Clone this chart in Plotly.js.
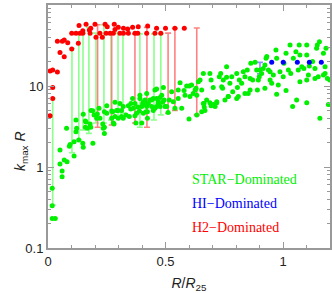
<!DOCTYPE html>
<html><head><meta charset="utf-8">
<script src="https://cdn.plot.ly/plotly-3.0.1.min.js"></script>
<style>html,body{margin:0;padding:0;background:#fff}#c{width:332px;height:293px}</style>
</head><body><div id="c"></div>
<script>
// STAR-dominated points
const starX = [0.018,0.018,0.018,0.031,0.051,0.051,0.06,0.06,0.069,0.081,0.091,0.111,0.111,0.131,0.15,0.191,0.079,0.119,0.119,0.15,0.159,0.159,0.182,0.19,0.207,0.217,0.21,0.24,0.25,0.25,0.233,0.24,0.271,0.278,0.271,0.094,0.148,0.122,0.167,0.235,0.162,0.196,0.179,0.183,0.221,0.24,
0.285,0.306,0.292,0.285,0.32,0.342,0.353,0.363,0.382,0.391,0.406,0.427,0.406,0.42,0.441,0.455,0.462,0.469,0.477,0.491,0.494,0.505,0.462,0.423,0.299,0.313,0.332,0.37,0.377,0.399,
0.275,0.281,0.299,0.313,0.32,0.352,0.346,0.36,0.37,0.374,0.389,0.391,0.399,0.403,0.413,0.417,0.417,0.42,0.423,0.434,0.441,0.448,0.448,0.455,0.462,0.469,0.477,0.484,0.488,0.498,0.516,0.526,0.533,0.54,0.554,0.554,0.562,0.511,0.6,0.633,
0.569,0.579,0.583,0.59,0.601,0.611,0.604,0.618,0.626,0.63,0.633,0.64,0.647,0.654,0.661,0.664,0.668,0.675,0.689,0.694,0.703,0.703,0.711,0.718,0.729,0.735,0.739,0.743,0.746,0.76,0.76,0.767,0.774,0.782,0.786,0.803,0.806,0.81,0.814,0.824,0.831,0.838,0.848,0.852,0.86,0.863,0.871,0.881,0.888,0.891,0.895,0.899,0.902,0.909,0.916,0.923,0.928,0.931,0.938,0.945,0.945,0.959,0.97,0.973,0.98,0.987,1.001,1.004,1.013,1.013,1.023,1.03,1.033,1.041,1.044,1.055,1.065,1.058,1.069,1.072,1.08,1.089,1.101,1.101,1.101,1.108,1.112,1.126,1.136,1.143,1.146,1.155,1.157,1.172,1.179,1.183,1.189,1.193,1.136,1.172,
0.661,0.665,0.654,0.689,0.694,0.718,0.753,0.767,0.803,0.838,1.101,0.973,0.923,0.86,0.952,1.072,1.15,1.179,1.199];
const starY = [0.546,0.333,0.232,0.232,1.62,1.09,0.89,0.76,1.22,1.16,1.8,2.05,1.37,2.15,1.75,1.96,3.0,2.73,3.8,4.47,3.7,3.1,3.1,4.95,4.0,5.3,4.5,3.1,5.7,4.6,3.4,2.6,4.0,3.5,4.9,1.9,1.96,3.0,3.0,3.0,3.6,4.4,3.4,5.0,4.0,4.8,
6.3,6.1,5.0,4.2,5.6,5.7,6.1,5.3,5.5,7.0,6.4,6.1,4.6,5.6,6.7,8.9,7.0,6.4,7.2,9.6,6.7,5.6,5.6,4.8,4.0,4.2,4.4,4.3,4.6,3.5,
4.8,3.4,5.0,5.0,4.0,5.2,4.2,7.0,6.1,3.5,4.9,7.7,5.6,6.1,6.7,5.9,4.8,8.1,4.0,6.7,5.6,7.0,5.0,5.3,9.2,6.1,5.6,7.7,6.3,5.6,6.7,8.5,6.4,5.3,7.0,8.9,11.0,4.7,3.9,4.4,
5.3,8.8,7.7,10.0,10.0,10.3,7.4,8.1,8.9,9.4,7.7,11.3,11.9,8.9,14.3,6.1,5.0,6.7,14.3,11.9,9.6,5.9,5.6,6.4,13.0,14.3,9.8,9.4,11.9,17.3,12.8,7.4,10.8,13.0,8.5,14.3,9.6,7.4,11.9,10.8,15.0,13.0,15.8,8.1,12.4,19.1,11.9,19.6,15.8,8.9,11.9,13.0,15.8,14.3,16.5,18.2,22.0,23.1,15.8,11.9,15.0,13.7,27.8,22.0,10.3,15.0,13.0,19.1,25.3,8.8,15.8,32.1,14.3,5.6,22.0,26.5,15.8,6.7,32.1,24.1,17.3,16.5,24.1,32.1,11.9,13.7,17.7,20.0,16.5,29.2,32.1,35.2,4.0,25.3,17.3,29.2,12.4,5.9,12.4,13.7,
6.1,5.5,4.8,6.2,5.7,6.2,6.7,7.4,7.0,8.1,6.2,7.9,9.4,8.9,10.8,11.3,13.0,14.3,11.9];
// HI-dominated points
const hiX = [0.952,1.001,1.061,1.112,1.163];
const hiY = [19.6,19.6,19.6,19.6,19.6];
// H2-dominated points
const h2X = [0.009,0.02,0.04,0.02,0.02,0.009,0.04,0.061,0.069,0.084,0.051,0.069,0.101,0.101,0.119,0.132,0.136,0.129,0.148,0.162,0.148,0.179,0.176,0.182,0.2,0.204,0.221,0.231,0.243,0.247,0.252,0.264,0.278,0.282,0.285,0.299,0.306,0.321,0.321,0.339,0.342,0.36,0.37,0.382,0.384,0.42,0.424,0.455,0.462,0.48,0.5,0.54,0.58];
const h2Y = [15.3,15.8,14.9,9.6,7.0,4.3,35.6,35.6,37,34.3,26,23,28.6,44.7,44.7,56,44.7,33.7,48,57.8,44.7,44.7,49,51.5,58,40,44.7,40,58,44.7,54,44.7,44.7,58,50,53,44.7,44.7,51.5,50.5,44.7,53,44.7,44.7,54,44.7,55,44.7,51.5,44.7,51.5,51.5,51.5];
// ranges (vertical bars)
const gBarX  = [0.02,0.102,0.131,0.149,0.174,0.204,0.238,0.268,0.298,0.319,0.391,0.451,0.48];
const gBarLo = [0.34,1.5,2.15,2.86,2.6,3.5,3.5,3.8,4.1,4.6,3.1,3.8,4.4];
const gBarHi = [7.0,29,45,45,53,45,57,45,45,45,44,44,44];
const rBarX  = [0.211,0.271,0.370,0.421,0.511,0.540,0.633];
const rBarLo = [3.1,3.3,3.5,3.1,4.6,5.0,4.4];
const rBarHi = [57,45,44,53,45,51.5,52];
const bBarX  = [0.902];
const bBarLo = [14.1];
const bBarHi = [19.6];
// axis ticks
const xTickVals = [0,0.5,1];
const xTickText = ['0','0.5','1'];
const yTickVals = [0.1,1,10,100];
const yTickText = ['0.1','1','10','100'];
const yMinor = [0.2,0.3,0.4,0.5,0.6,0.7,0.8,0.9,2,3,4,5,6,7,8,9,20,30,40,50,60,70,80,90];
const legendLabels = ['STAR\u2212Dominated','HI\u2212Dominated','H2\u2212Dominated'];

function barTrace(xs, lo, hi, col){
  return {x: xs, y: hi, type:'scatter', mode:'markers',
    marker:{color:'rgba(0,0,0,0)', size:2},
    error_y:{type:'data', symmetric:false, array: hi.map(()=>0),
      arrayminus: hi.map((h,i)=>h-lo[i]), color: col, thickness:1.6, width:3},
    hoverinfo:'skip', showlegend:false};
}
const traces = [
  barTrace(gBarX,gBarLo,gBarHi,'rgb(140,255,140)'),
  barTrace(rBarX,rBarLo,rBarHi,'rgb(255,130,130)'),
  barTrace(bBarX,bBarLo,bBarHi,'rgb(140,140,255)'),
  {x:starX,y:starY,type:'scatter',mode:'markers',marker:{color:'#00f000',size:5},showlegend:false},
  {x:hiX,y:hiY,type:'scatter',mode:'markers',marker:{color:'#0000ff',size:5},showlegend:false},
  {x:h2X,y:h2Y,type:'scatter',mode:'markers',marker:{color:'#ff0000',size:5},showlegend:false}
];
const axCol = '#999';
const sans = 'Liberation Sans, Arial, sans-serif';
const tickFont = {family:sans, size:13, color:'#222'};
const legCols = ['#00f000','#0000ff','#ff0000'];
const layout = {
  width:332, height:293,
  margin:{l:48, r:2, t:5, b:45},
  paper_bgcolor:'#fff', plot_bgcolor:'#fff',
  xaxis:{range:[0,1.2], showgrid:false, zeroline:false, showline:true, mirror:'ticks',
    linecolor:axCol, linewidth:2, ticks:'inside', ticklen:6, tickcolor:axCol, tickwidth:1,
    tickmode:'array', tickvals:xTickVals, ticktext:xTickText, tickfont:tickFont,
    minor:{dtick:0.1, tick0:0, ticks:'inside', ticklen:3, tickcolor:axCol, showgrid:false},
    title:{text:'<i>R</i>/<i>R</i><sub>25</sub>', font:{family:sans, size:14, color:'#222'}, standoff:12}},
  yaxis:{type:'log', range:[-1,2], showgrid:false, zeroline:false, showline:true, mirror:'ticks',
    linecolor:axCol, linewidth:2, ticks:'inside', ticklen:6, tickcolor:axCol, tickwidth:1,
    tickmode:'array', tickvals:yTickVals, ticktext:yTickText, tickfont:tickFont,
    minor:{tickmode:'array', tickvals:yMinor, ticks:'inside', ticklen:3, tickcolor:axCol, showgrid:false},
    title:{text:''}},
  annotations: legendLabels.map((t,i)=>({xref:'paper', yref:'paper', x:0.504, y:0.282 - i*0.099,
    xanchor:'left', yanchor:'middle', showarrow:false, text:t,
    font:{family:'Liberation Serif, Times New Roman, serif', size:14, color:legCols[i]}})).concat([
    {xref:'paper', yref:'paper', x:-0.095, y:0.40, xanchor:'center', yanchor:'middle', textangle:-90,
     showarrow:false, text:'<i>k</i><sub>max</sub> <i>R</i>', font:{family:sans, size:14, color:'#222'}}])
};
Plotly.newPlot('c', traces, layout, {displayModeBar:false, staticPlot:true});
</script></body></html>
